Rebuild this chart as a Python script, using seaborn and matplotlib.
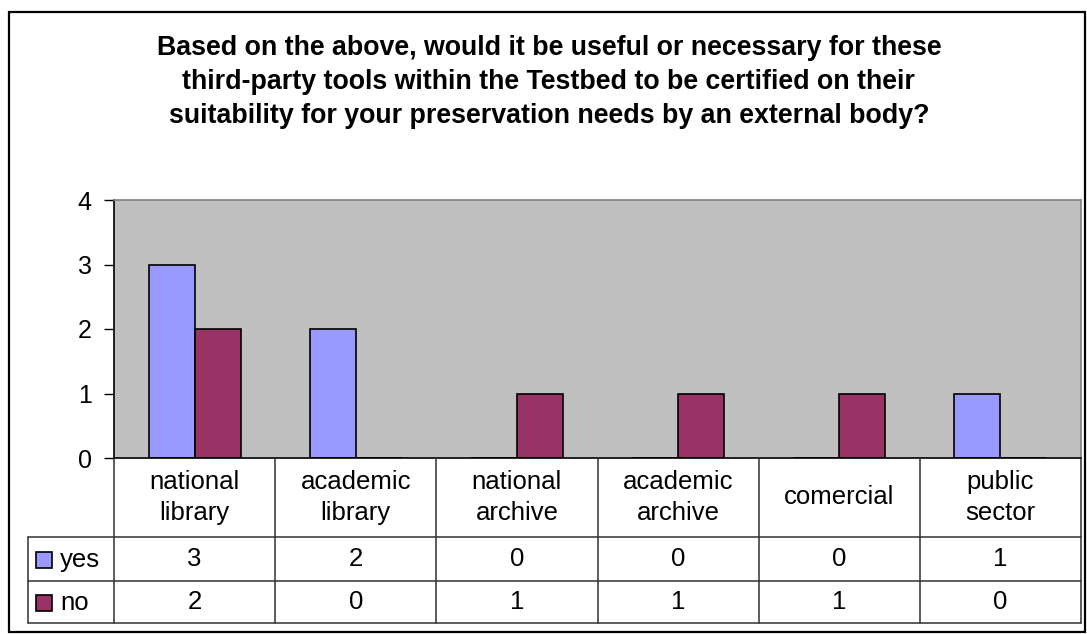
import matplotlib
matplotlib.use("Agg")
import matplotlib.pyplot as plt
import matplotlib.transforms as mtransforms
from matplotlib.lines import Line2D
from matplotlib.patches import Rectangle
import seaborn as sns
import pandas as pd

categories = ["national\nlibrary", "academic\nlibrary", "national\narchive",
              "academic\narchive", "comercial", "public\nsector"]
series_names = ["yes", "no"]
yes_values = [3, 2, 0, 0, 0, 1]
no_values = [2, 0, 1, 1, 1, 0]
y_ticks = [0, 1, 2, 3, 4]
title = ("Based on the above, would it be useful or necessary for these\n"
         "third-party tools within the Testbed to be certified on their\n"
         "suitability for your preservation needs by an external body?")
colors = ["#9999FF", "#993366"]

sns.set_theme(style="white")
plt.rcParams["font.family"] = ["Liberation Sans", "DejaVu Sans"]
plt.rcParams["text.color"] = "black"
plt.rcParams["ytick.color"] = "black"
plt.rcParams["ytick.labelcolor"] = "black"

W, H = 1087, 634
fig = plt.figure(figsize=(W / 100, H / 100), dpi=100)
fig.patch.set_facecolor("white")

def fx(px):
    return px / W

def fy(py):
    return 1 - py / H

ax_left, ax_right, ax_top, ax_bottom = 114, 1081, 200, 458
ax = fig.add_axes([fx(ax_left), fy(ax_bottom), fx(ax_right - ax_left),
                   (ax_bottom - ax_top) / H])

df = pd.DataFrame({
    "category": categories * 2,
    "series": [series_names[0]] * len(categories) + [series_names[1]] * len(categories),
    "value": yes_values + no_values,
})

sns.barplot(data=df, x="category", y="value", hue="series", order=categories,
            hue_order=series_names, palette=colors, width=0.57, gap=0,
            edgecolor="black", linewidth=1.2, saturation=1, ax=ax, legend=False)

ax.set_facecolor("#C0C0C0")
ax.set_xlim(-0.5, len(categories) - 0.5)
ax.set_ylim(0, 4)
ax.set_yticks(y_ticks)
ax.set_yticklabels([str(t) for t in y_ticks], fontsize=18, color="black")
ax.tick_params(axis="y", direction="out", length=7, width=1, color="black",
               left=True, pad=9)
ax.set_xticks([])
ax.set_xlabel("")
ax.set_ylabel("")
for side in ["left", "bottom"]:
    ax.spines[side].set_color("black")
    ax.spines[side].set_linewidth(1.2)
for side in ["top", "right"]:
    ax.spines[side].set_color("#808080")
    ax.spines[side].set_linewidth(1.2)

fig.text(0.505, fy(82), title, ha="center", va="center", fontsize=19.3,
         fontweight="bold", linespacing=1.38)

# data table under the plot
blend = mtransforms.blended_transform_factory(ax.transData, fig.transFigure)
row_yes_top, row_no_top, table_bottom = 537, 581, 623
legend_left = 28
line_kw = dict(color="#303030", linewidth=1.1)
table_fs = 18.5

for i in range(len(categories) + 1):
    x = i - 0.5
    fig.add_artist(Line2D([x, x], [fy(ax_bottom), fy(table_bottom)],
                          transform=blend, **line_kw))
fig.add_artist(Line2D([fx(legend_left), fx(legend_left)],
                      [fy(row_yes_top), fy(table_bottom)],
                      transform=fig.transFigure, **line_kw))
for py in [row_yes_top, row_no_top, table_bottom]:
    fig.add_artist(Line2D([fx(legend_left), fx(ax_right)], [fy(py), fy(py)],
                          transform=fig.transFigure, **line_kw))

for i, cat in enumerate(categories):
    fig.text(i, fy((ax_bottom + row_yes_top) / 2), cat, transform=blend,
             ha="center", va="center", fontsize=table_fs, linespacing=1.42)
    fig.text(i, fy((row_yes_top + row_no_top) / 2), str(yes_values[i]),
             transform=blend, ha="center", va="center", fontsize=table_fs)
    fig.text(i, fy((row_no_top + table_bottom) / 2), str(no_values[i]),
             transform=blend, ha="center", va="center", fontsize=table_fs)

for name, color, top, bottom in [(series_names[0], colors[0], row_yes_top, row_no_top),
                                 (series_names[1], colors[1], row_no_top, table_bottom)]:
    cy = (top + bottom) / 2 + 1
    fig.add_artist(Rectangle((fx(36), fy(cy + 8)), fx(16), 16 / H,
                             transform=fig.transFigure, facecolor=color,
                             edgecolor="black", linewidth=1.2))
    fig.text(fx(60), fy(cy), name, ha="left", va="center", fontsize=table_fs)

# outer chart border
fig.add_artist(Rectangle((fx(8.5), fy(632)), fx(1085 - 8.5), (632 - 12) / H,
                         transform=fig.transFigure, fill=False,
                         edgecolor="black", linewidth=1.6))

fig.savefig("out.png", dpi=100)
